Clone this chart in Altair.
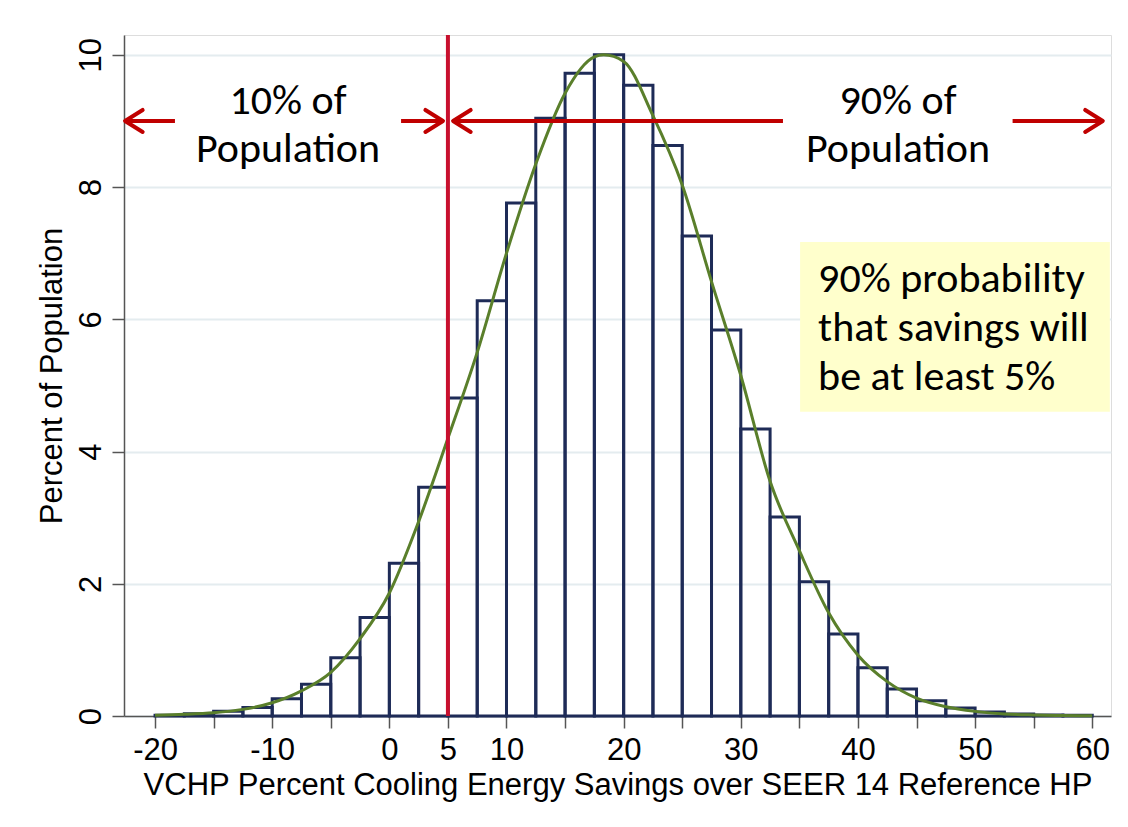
import altair as alt
import pandas as pd

# ---- data ----
bin_start = [-20, -17.5, -15, -12.5, -10, -7.5, -5, -2.5, 0, 2.5, 5, 7.5, 10, 12.5, 15, 17.5,
             20, 22.5, 25, 27.5, 30, 32.5, 35, 37.5, 40, 42.5, 45, 47.5, 50, 52.5, 55, 57.5]
pct = [0.01, 0.035, 0.07, 0.13, 0.26, 0.48, 0.88, 1.49, 2.31, 3.46, 4.81, 6.28, 7.76, 9.04, 9.72, 10.0,
       9.54, 8.63, 7.26, 5.84, 4.34, 3.01, 2.03, 1.24, 0.73, 0.41, 0.23, 0.12, 0.06, 0.03, 0.015, 0.01]
bin_width = 2.5

curve_x = [-20, -17.5, -15, -12.5, -10, -7.5, -5, -2.5, 0, 2.5, 5, 7.5, 10, 12.5, 15, 17.5, 18.3,
           20, 22.5, 25, 27.5, 30, 32.5, 35, 37.5, 40, 42.5, 45, 47.5, 50, 52.5, 55, 57.5, 60]
curve_y = [0.01, 0.025, 0.05, 0.1, 0.2, 0.38, 0.66, 1.17, 1.86, 2.94, 4.2, 5.5, 7.0, 8.35, 9.42, 9.97, 10.0,
           9.9, 9.08, 8.03, 6.57, 5.15, 3.55, 2.5, 1.56, 0.92, 0.52, 0.27, 0.14, 0.07, 0.03, 0.015, 0.007, 0.003]

x_ticks = list(range(-20, 61, 5))
x_labels = [-20, -10, 0, 5, 10, 20, 30, 40, 50, 60]
y_ticks = [0, 2, 4, 6, 8, 10]
x_domain = [-22.65, 61.6]
y_domain = [0, 10.3]

threshold = 5
arrow_level = 9
arrow_tail = [-18.3, 1.0, 33.6, 53.2]
arrow_head = [-22.56, 4.58, 5.44, 60.9]
arrow_dir = ["left", "right", "left", "right"]

labels_text = ["10% of\nPopulation", "90% of\nPopulation"]
labels_x = [-8.65, 43.42]
labels_y = [9.1, 9.1]

box_x = [35.06, 61.5]
box_y = [4.6, 7.17]
box_text = "90% probability\nthat savings will\nbe at least 5%"
box_text_x = 36.6
box_text_y = 6.41

x_title = "VCHP Percent Cooling Energy Savings over SEER 14 Reference HP"
y_title = "Percent of Population"

AX_FONT = "Liberation Sans"
ANN_FONT = "Carlito, Lato, sans-serif"

# ---- tables ----
bars = pd.DataFrame({"x0": bin_start, "x1": [b + bin_width for b in bin_start], "pct": pct})
curve = pd.DataFrame({"x": curve_x, "y": curve_y})
vline = pd.DataFrame({"x": [threshold], "y0": [y_domain[0]], "y1": [y_domain[1]]})
arrows = pd.DataFrame({"tail": arrow_tail, "head": arrow_head, "dir": arrow_dir,
                       "y": [arrow_level] * len(arrow_tail)})
labels = pd.DataFrame({"x": labels_x, "y": labels_y, "t": labels_text})
box = pd.DataFrame({"x0": [box_x[0]], "x1": [box_x[1]], "y0": [box_y[0]], "y1": [box_y[1]]})
boxtxt = pd.DataFrame({"x": [box_text_x], "y": [box_text_y], "t": [box_text]})

xscale = alt.Scale(domain=x_domain, nice=False, zero=False)
yscale = alt.Scale(domain=y_domain, nice=False)

label_list = "[" + ",".join(str(v) for v in x_labels) + "]"
xaxis = alt.Axis(values=x_ticks,
                 labelExpr=f"indexof({label_list}, datum.value) >= 0 ? toString(datum.value) : ''",
                 title=x_title, grid=False, tickSize=12, tickColor="#555555", tickWidth=1.5,
                 domainColor="#555555", domainWidth=1.5, labelFont=AX_FONT, labelFontSize=31,
                 labelColor="black", labelPadding=7, titleFont=AX_FONT, titleFontSize=31,
                 titleFontWeight="normal", titleColor="black", titlePadding=5, labelFlush=False,
                 labelOverlap=False)
yaxis = alt.Axis(values=y_ticks, labelExpr="toString(datum.value)", title=y_title, grid=True,
                 gridColor="#E4ECEF", gridWidth=2,
                 tickSize=12, tickColor="#555555", tickWidth=1.5, domainColor="#555555", domainWidth=1.5,
                 labelFont=AX_FONT, labelFontSize=31, labelColor="black", labelAngle=270,
                 labelAlign="center", labelBaseline="alphabetic", labelPadding=12,
                 titleFont=AX_FONT, titleFontSize=31, titleFontWeight="normal", titleColor="black",
                 titlePadding=7, labelFlush=False)

bar_layer = alt.Chart(bars).mark_rect(fill=None, fillOpacity=0, stroke="#1E2B57", strokeWidth=3).encode(
    x=alt.X("x0:Q", scale=xscale, axis=xaxis), x2="x1:Q",
    y=alt.Y("pct:Q", scale=yscale, axis=yaxis), y2=alt.datum(0))

curve_layer = alt.Chart(curve).mark_line(color="#5A7F2B", strokeWidth=3, interpolate="monotone").encode(
    x="x:Q", y="y:Q")

vline_layer = alt.Chart(vline).mark_rule(color="#C8102E", strokeWidth=4).encode(
    x="x:Q", y="y0:Q", y2="y1:Q")

shaft_layer = alt.Chart(arrows).mark_rule(color="#C00000", strokeWidth=4).encode(
    x="tail:Q", x2="head:Q", y="y:Q")

LEFT_HEAD = "M1.6,-1 L0,0 L1.6,1"
RIGHT_HEAD = "M-1.6,-1 L0,0 L-1.6,1"
head_left = alt.Chart(arrows).transform_filter("datum.dir == 'left'").mark_point(
    shape=LEFT_HEAD, size=484, filled=False, stroke="#C00000", strokeWidth=4, opacity=1,
    strokeCap="round", strokeJoin="round").encode(x="head:Q", y="y:Q")
head_right = alt.Chart(arrows).transform_filter("datum.dir == 'right'").mark_point(
    shape=RIGHT_HEAD, size=484, filled=False, stroke="#C00000", strokeWidth=4, opacity=1,
    strokeCap="round", strokeJoin="round").encode(x="head:Q", y="y:Q")

label_layer = alt.Chart(labels).mark_text(font=ANN_FONT, fontSize=42, lineBreak="\n", lineHeight=48,
                                          align="center", baseline="alphabetic", color="black").encode(
    x="x:Q", y="y:Q", text="t:N")

box_layer = alt.Chart(box).mark_rect(fill="#FFFFCC", stroke=None).encode(
    x="x0:Q", x2="x1:Q", y="y0:Q", y2="y1:Q")

boxtxt_layer = alt.Chart(boxtxt).mark_text(font=ANN_FONT, fontSize=42, lineBreak="\n", lineHeight=49,
                                           align="left", baseline="alphabetic", color="black").encode(
    x="x:Q", y="y:Q", text="t:N")

chart = alt.layer(bar_layer, curve_layer, vline_layer, shaft_layer, head_left, head_right,
                  box_layer, label_layer, boxtxt_layer).properties(
    width=987, height=681, padding={"left": 28, "top": 25, "right": 5, "bottom": 5}
).configure_view(stroke=None).configure(background="white")

chart.save("out.html", embed_options={"renderer": "svg", "actions": False})
